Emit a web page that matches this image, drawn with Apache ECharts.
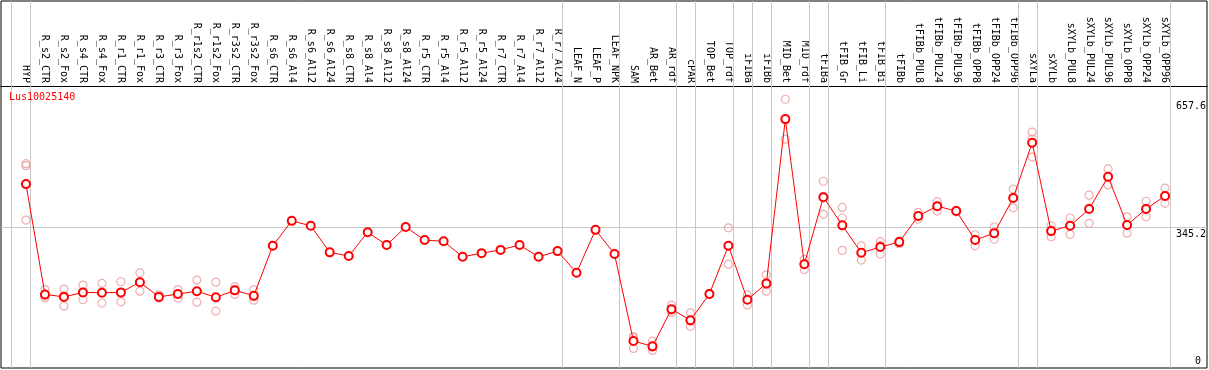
<!DOCTYPE html>
<html>
<head>
<meta charset="utf-8">
<script src="https://cdn.jsdelivr.net/npm/echarts@6/dist/echarts.min.js"></script>
<style>
html,body{margin:0;padding:0;background:#fff;}
#chart{width:1209px;height:370px;}
</style>
</head>
<body>
<div id="chart"></div>
<script>
var title = 'Lus10025140';
var categories = ['HYP','R_s2_CTR','R_s2_Fox','R_s4_CTR','R_s4_Fox','R_r1_CTR','R_r1_Fox','R_r3_CTR','R_r3_Fox','R_r1s2_CTR','R_r1s2_Fox','R_r3s2_CTR','R_r3s2_Fox','R_s6_CTR','R_s6_Al4','R_s6_Al12','R_s6_Al24','R_s8_CTR','R_s8_Al4','R_s8_Al12','R_s8_Al24','R_r5_CTR','R_r5_Al4','R_r5_Al12','R_r5_Al24','R_r7_CTR','R_r7_Al4','R_r7_Al12','R_r7_Al24','LEAF_N','LEAF_P','LEAF_NPK','SAM','AR_Bet','AR_rdf','cPAR','TOP_Bet','TOP_rdf','iFIBa','iFIBb','MID_Bet','MID_rdf','tFIBa','tFIB_Gr','tFIB_Li','tFIB_Bi','tFIBb','tFIBb_PUL8','tFIBb_PUL24','tFIBb_PUL96','tFIBb_OPP8','tFIBb_OPP24','tFIBb_OPP96','sXYLa','sXYLb','sXYLb_PUL8','sXYLb_PUL24','sXYLb_PUL96','sXYLb_OPP8','sXYLb_OPP24','sXYLb_OPP96'];
var meanValues = [450,180,174,185,184,185,210,174,181,188,173,190,177,299,360,348,283,274,332,301,345,313,310,272,281,289,301,272,286,233,338,279,66,53,144,117,181,299,167,207,609,254,418,349,282,296,308,372,396,384,313,330,416,551,335,348,389,468,350,389,421];
var rep1 = [500,192,193,203,207,211,233,179,192,215,210,199,192,null,null,null,null,null,null,null,null,null,null,null,null,null,null,null,null,null,null,null,74,66,154,135,183,343,179,228,657.6,266,457,393,299,309,304,381,407,386,326,345,438,577,348,367,423,487,370,408,440];
var rep2 = [495,172,152,167,159,162,188,172,171,161,139,180,166,null,null,null,null,null,null,null,null,null,null,null,null,null,null,null,null,null,null,null,48,43,136,102,180,254,154,188,560,241,376,367,264,279,311,364,384,382,299,315,392,516,321,327,354,448,330,370,403];
var rep3 = [362,177,177,186,185,183,209,171,181,188,171,192,174,null,null,null,null,null,null,null,null,null,null,null,null,null,null,null,null,null,null,null,77,51,142,114,181,299,167,204,608,255,420,288,282,300,309,371,396,384,315,329,418,561,337,348,391,467,350,390,420];
// indices of the last category of each group (separator drawn just after it)
var groupEnds = [-1,0,28,31,34,35,37,38,39,41,42,45,52,53,60];
var yTickLabels = [345.2, 657.6];
var yZeroLabel = [0];
var refLineValue = 345.2;

var FONT = 'DejaVu Sans Mono';
var meanData = meanValues.map(function(v,i){return [i,v];});
var repData = [];
[rep1,rep2,rep3].forEach(function(arr){
  arr.forEach(function(v,i){ if(v!==null) repData.push([i,v]); });
});
var catIdx = categories.map(function(c,i){return i;});
var markData = groupEnds.map(function(g){return {xAxis: g+0.25};});
markData.push({yAxis: refLineValue});

var chart = echarts.init(document.getElementById('chart'), null, {renderer:'canvas'});
chart.setOption({
  animation:false,
  backgroundColor:'#fff',
  title:{text:title,left:9,top:92,padding:0,textStyle:{color:'#ff0000',fontSize:10,fontWeight:'normal',fontFamily:FONT}},
  grid:{left:1,right:1,top:1,bottom:2,show:true,borderColor:'#000',borderWidth:1,backgroundColor:'transparent'},
  xAxis:{
    type:'value',position:'top',offset:-85,
    min:-1.3158,max:62.21,
    axisLine:{show:true,onZero:false,lineStyle:{color:'#000',width:1}},
    axisTick:{show:false},
    splitLine:{show:false},
    axisLabel:{
      customValues:catIdx,rotate:90,margin:3,
      fontFamily:FONT,fontSize:10,color:'#000',
      formatter:function(v){return categories[Math.round(v)]||'';}
    }
  },
  yAxis:[{
    type:'value',position:'right',min:0,max:898,
    axisLine:{show:false},axisTick:{show:false},splitLine:{show:false},
    axisLabel:{customValues:yTickLabels,inside:true,margin:1,verticalAlign:'top',padding:[2,0,0,0],
      fontFamily:FONT,fontSize:10,color:'#000',formatter:function(v){return String(v);}}
  },{
    type:'value',position:'right',min:0,max:898,
    axisLine:{show:false},axisTick:{show:false},splitLine:{show:false},
    axisLabel:{customValues:yZeroLabel,inside:true,margin:6,verticalAlign:'bottom',padding:[0,0,2,0],
      fontFamily:FONT,fontSize:10,color:'#000',formatter:function(v){return String(v);}}
  }],
  series:[{
    type:'scatter',
    data:repData,
    symbol:'circle',symbolSize:8,
    itemStyle:{color:'rgba(255,255,255,0)',borderColor:'#ee9a9a',borderWidth:1.2},
    z:2,silent:true
  },{
    type:'line',
    data:meanData,
    symbol:'emptyCircle',symbolSize:8,
    lineStyle:{color:'#ff0000',width:1},
    itemStyle:{color:'#ff0000',borderColor:'#ff0000',borderWidth:1.4},
    z:3,silent:true,
    markLine:{
      silent:true,symbol:['none','none'],
      label:{show:false},
      lineStyle:{color:'#c8c8c8',width:1,type:'solid'},
      data:markData,z:1
    }
  }]
});
</script>
</body>
</html>
